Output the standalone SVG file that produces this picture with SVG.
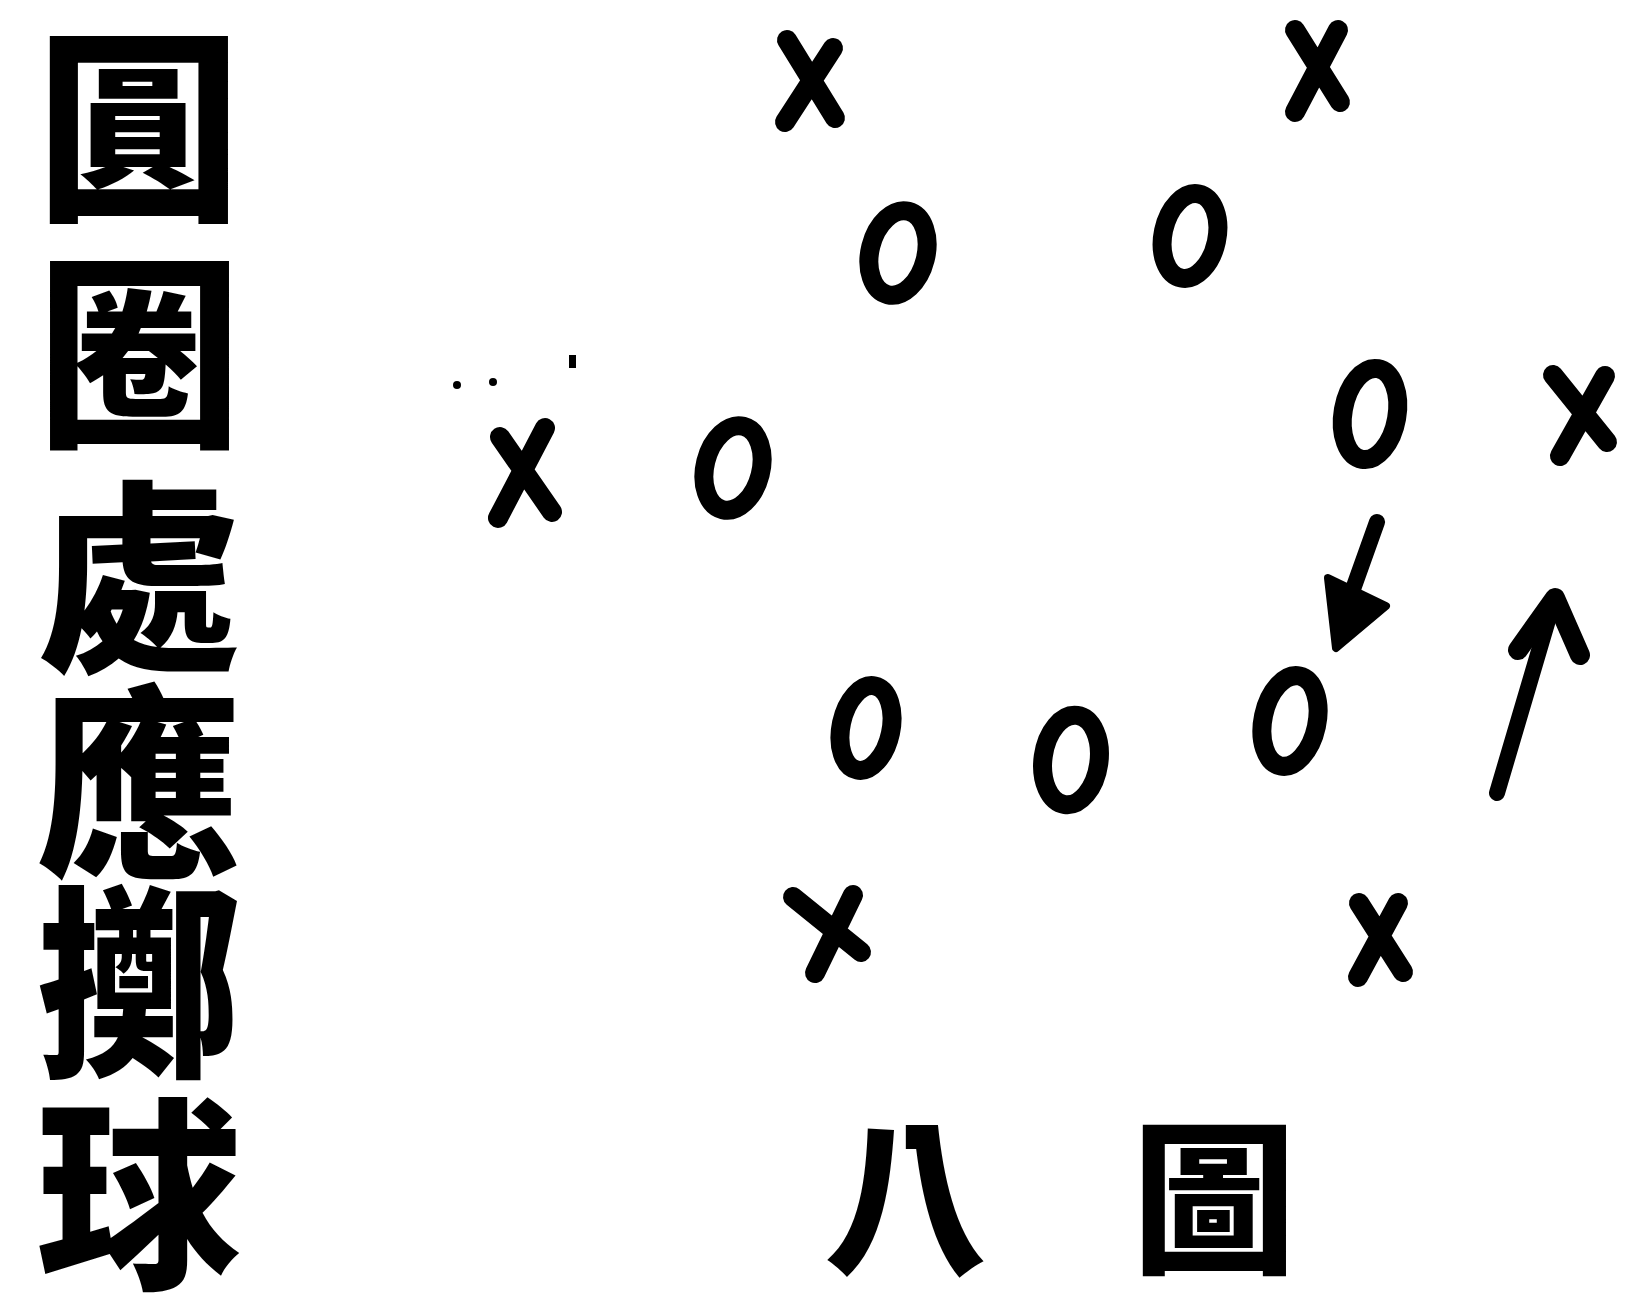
<svg xmlns="http://www.w3.org/2000/svg" width="1631" height="1295" viewBox="0 0 1631 1295">
<style>
  .bg{fill:#fff}
  .cj{font-family:"Noto Sans CJK TC","Noto Sans CJK SC",sans-serif;font-weight:900;fill:#000;text-anchor:middle;dominant-baseline:central}
  .col{font-size:205px}
  .cap{font-size:164px}
  .xm{fill:none;stroke:#000;stroke-width:20;stroke-linecap:round;stroke-linejoin:round}
  .om{fill:none;stroke:#000;stroke-width:19}
  .shaft{fill:none;stroke:#000;stroke-linecap:round;stroke-linejoin:round}
  .dot{fill:#000}
</style>
<rect class="bg" x="0" y="0" width="1631" height="1295"/>

<g id="title">
  <text class="cj col" x="139" y="113">圓</text>
  <text class="cj col" x="139" y="340">圈</text>
  <text class="cj col" x="139" y="565">處</text>
  <text class="cj col" x="139" y="770">應</text>
  <text class="cj col" x="139" y="970">擲</text>
  <text class="cj col" x="139" y="1182">球</text>
</g>

<g id="caption">
  <text class="cj cap" x="906" y="1188">八</text>
  <text class="cj cap" x="1214" y="1188">圖</text>
</g>

<g id="x1"><path class="xm" d="M787,40 L835,118 M833,48 L785,122"/></g>
<g id="x2"><path class="xm" d="M1295,30 L1340,102 M1338,30 L1295,112"/></g>
<g id="x3"><path class="xm" d="M1553,375 L1607,442 M1605,376 L1560,456"/></g>
<g id="x4"><path class="xm" d="M500,437 L552,512 M545,428 L498,518"/></g>
<g id="x5"><path class="xm" d="M793,897 L861,952 M853,895 L815,973"/></g>
<g id="x6"><path class="xm" d="M1359,903 L1403,972 M1398,903 L1358,977"/></g>

<g id="o1"><ellipse class="om" cx="898" cy="253" rx="28" ry="43" transform="rotate(14 898 253)"/></g>
<g id="o2"><ellipse class="om" cx="1190" cy="236" rx="27" ry="43" transform="rotate(12 1190 236)"/></g>
<g id="o3"><ellipse class="om" cx="1370" cy="414" rx="27" ry="46" transform="rotate(10 1370 414)"/></g>
<g id="o4"><ellipse class="om" cx="733" cy="468" rx="28" ry="43" transform="rotate(14 733 468)"/></g>
<g id="o5"><ellipse class="om" cx="866" cy="728" rx="25" ry="43" transform="rotate(12 866 728)"/></g>
<g id="o6"><ellipse class="om" cx="1071" cy="760" rx="28" ry="45" transform="rotate(8 1071 760)"/></g>
<g id="o7"><ellipse class="om" cx="1290" cy="721" rx="27" ry="46" transform="rotate(12 1290 721)"/></g>

<g id="specks">
  <circle class="dot" cx="457" cy="385" r="4"/>
  <circle class="dot" cx="493" cy="382" r="4"/>
  <rect class="dot" x="569" y="355" width="7" height="13"/>
</g>

<g id="connectors">
  <path class="shaft" stroke-width="16" d="M1377,522 L1352,592"/>
  <path d="M1328,578 L1386,606 L1336,648 Z" fill="#000" stroke="#000" stroke-width="8" stroke-linejoin="round"/>
  <path class="shaft" stroke-width="16" d="M1497,793 L1551,610"/>
  <path class="shaft" stroke-width="20" d="M1518,650 L1555,598 L1580,655"/>
</g>
</svg>
